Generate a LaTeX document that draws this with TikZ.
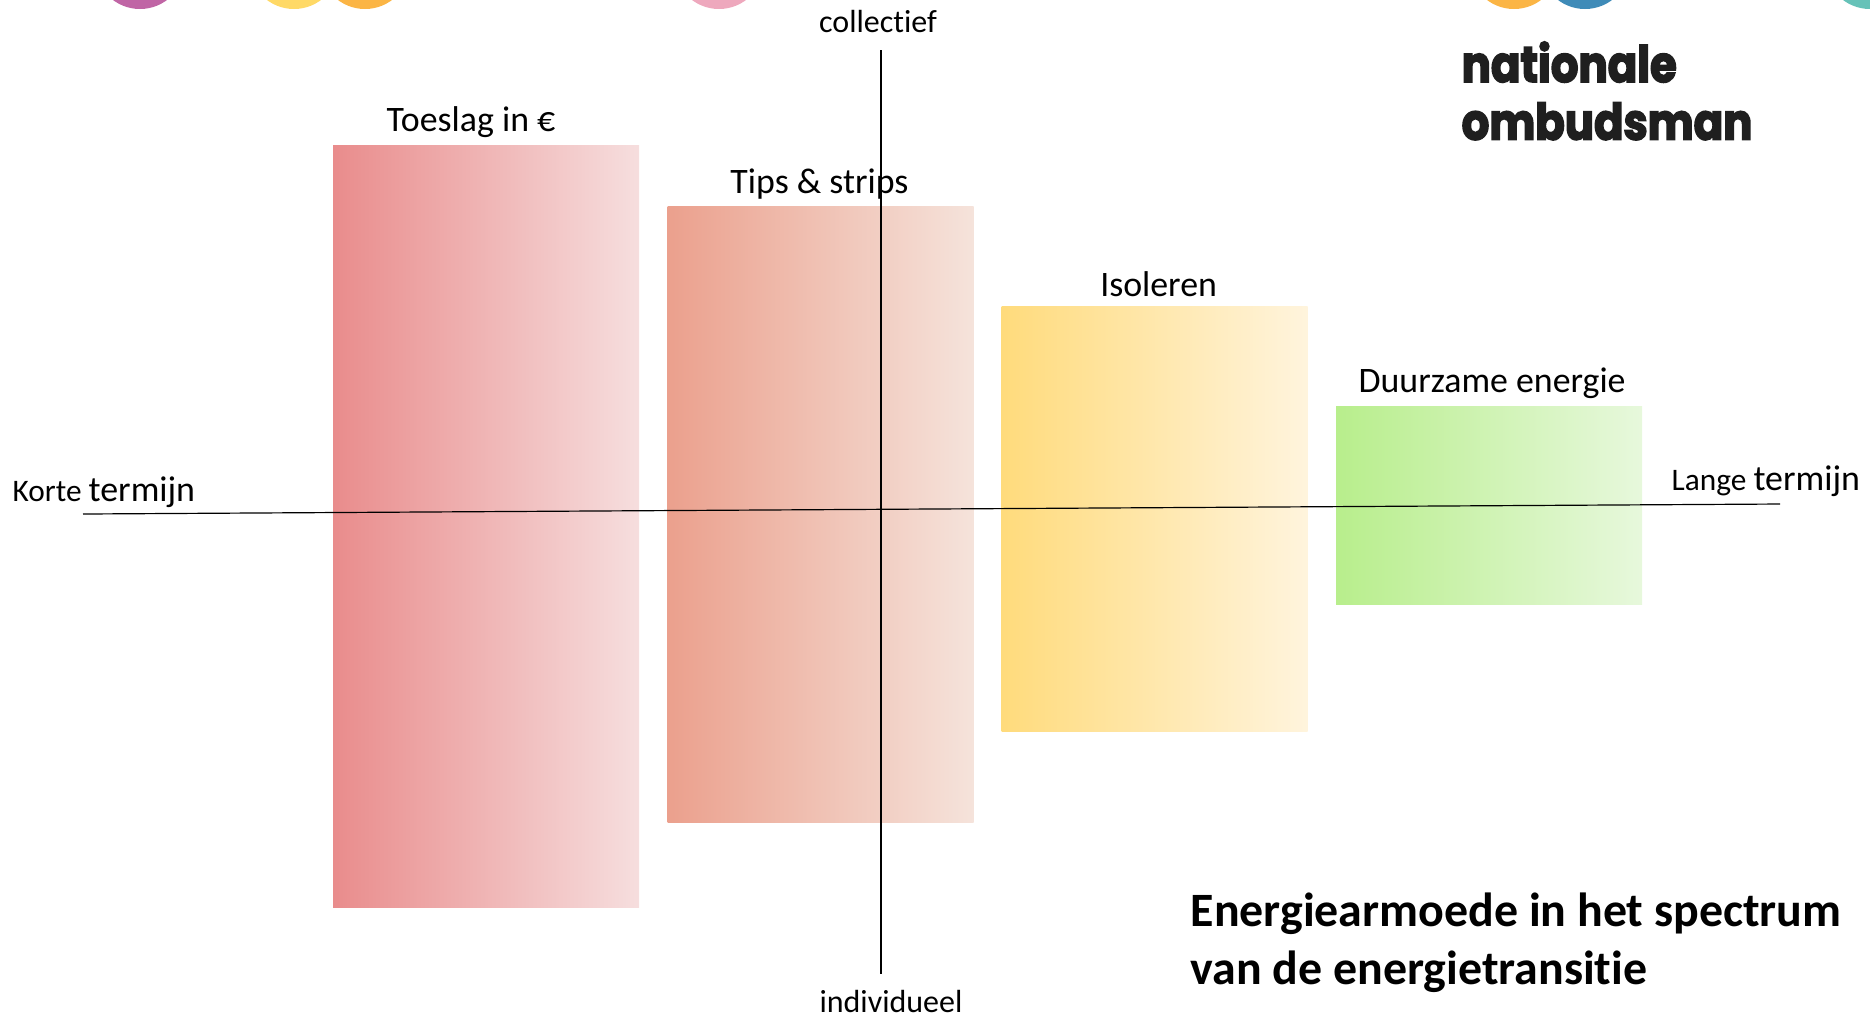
\documentclass[tikz,border=0pt]{standalone}
\usepackage{fontspec}
\setmainfont[Ligatures=NoCommon]{Carlito}
\newfontfamily\logofont[BoldFeatures={FakeBold=3},FakeStretch=.86]{Poppins}
\usetikzlibrary{positioning}

\definecolor{toeslagL}{HTML}{E98C8C}
\definecolor{toeslagR}{HTML}{F6DEDE}
\definecolor{tipsL}{HTML}{EBA08D}
\definecolor{tipsR}{HTML}{F5E3DB}
\definecolor{isolerenL}{HTML}{FFDB7C}
\definecolor{isolerenR}{HTML}{FFF4DD}
\definecolor{duurzaamL}{HTML}{B8EE8C}
\definecolor{duurzaamR}{HTML}{E7F8DC}
\definecolor{dotPurple}{HTML}{C065A5}
\definecolor{dotYellow}{HTML}{FFD966}
\definecolor{dotOrange}{HTML}{FBB545}
\definecolor{dotPink}{HTML}{EEA8BD}
\definecolor{dotBlue}{HTML}{3F8BB8}
\definecolor{dotTeal}{HTML}{66C2B8}

\begin{document}
\begin{tikzpicture}[x=.29411bp,y=-.29411bp,align=center,
  bar node/.style={rectangle,inner sep=0,minimum width=90bp},
  bar label/.style={inner sep=0,font=\fontsize{10.58}{12}\selectfont},
  axis label/.style={inner sep=0,font=\fontsize{9.45}{11}\selectfont},
  dot node/.style={circle,inner sep=0,minimum size=26.47bp}]
  \useasboundingbox (0,0) rectangle (1870,1019);

  % circles cut off by the page
  \begin{scope}
    \clip (0,0) rectangle (1870,1019);
    \node[dot node,fill=dotPurple] (dot1) at (140,-36) {};
    \node[dot node,fill=dotYellow] (dot2) at (294,-36) {};
    \node[dot node,fill=dotOrange] (dot3) at (365,-36) {};
    \node[dot node,fill=dotPink] (dot4) at (719,-36) {};
    \node[dot node,fill=dotOrange] (dot5) at (1514,-36) {};
    \node[dot node,fill=dotBlue] (dot6) at (1585,-36) {};
    \node[dot node,fill=dotTeal] (dot7) at (1870,-36) {};
  \end{scope}

  \node[bar node,left color=toeslagL,right color=toeslagR,minimum height=224.1bp] (toeslag) at (486,526.5) {};
  \node[bar node,left color=tipsL,right color=tipsR,minimum height=180.9bp] (tips) at (820.5,514.5) {};
  \node[bar node,left color=isolerenL,right color=isolerenR,minimum height=125bp] (isoleren) at (1154.5,518.5) {};
  \node[bar node,left color=duurzaamL,right color=duurzaamR,minimum height=58.5bp] (duurzaam) at (1489,505.5) {};

  \node[bar label,above=2bp of toeslag.north,xshift=-4.4bp] (toeslag label) {Toeslag in €};
  \node[bar label,above=2bp of tips.north,xshift=-.3bp] (tips label) {Tips \& strips};
  \node[bar label,above=2.2bp of isoleren.north,xshift=1.2bp] (isoleren label) {Isoleren};
  \node[bar label,above=1.7bp of duurzaam.north,xshift=.9bp] (duurzaam label) {Duurzame energie};

  \coordinate (top) at (881,50);
  \coordinate (bottom) at (881,974);
  \coordinate (left) at (83,514);
  \coordinate (right) at (1780,504);
  \draw[line width=.35bp] (top) -- (bottom);
  \draw[line width=.35bp] (left) -- (right);

  \node[axis label] (collectief) at (878,21) {collectief};
  \node[axis label] (individueel) at (891,1001) {individueel};
  \node[inner sep=0,anchor=base west] (korte) at (12,501) {\fontsize{9.25}{10}\selectfont Korte \fontsize{10.6}{12}\selectfont termijn};
  \node[inner sep=0,anchor=base west] (lange) at (1671,490) {\fontsize{9.25}{10}\selectfont Lange \fontsize{10.6}{12}\selectfont termijn};

  \node[inner sep=0,align=left,anchor=north west,font=\logofont\bfseries\fontsize{14.9}{17}\selectfont\color{black!88}] (logo) at (1461,41) {nationale\\ombudsman};
  \node[inner sep=0,align=left,anchor=north west,font=\bfseries\fontsize{14.14}{17.1}\selectfont] (title) at (1190,892) {Energiearmoede in het spectrum\\van de energietransitie};
\end{tikzpicture}
\end{document}
